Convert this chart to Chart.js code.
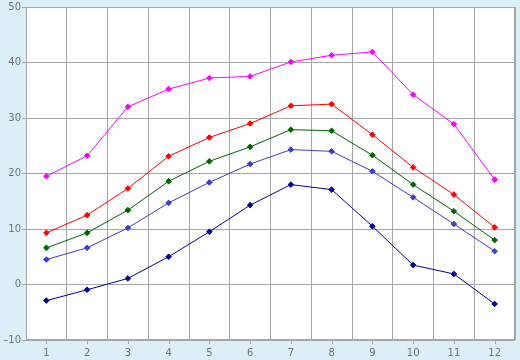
<!DOCTYPE html>
<html>
<head>
<meta charset="utf-8">
<script src="https://cdn.jsdelivr.net/npm/chart.js@4/dist/chart.umd.min.js"></script>
<style>
html,body{margin:0;padding:0;background:#daeff6;}
#wrap{width:520px;height:360px;}
</style>
</head>
<body>
<div id="wrap"><canvas id="c" width="520" height="360"></canvas></div>
<script>
const categories = ['1','2','3','4','5','6','7','8','9','10','11','12'];
const seriesMagenta = [19.5, 23.2, 32.0, 35.2, 37.2, 37.5, 40.1, 41.3, 41.9, 34.2, 28.9, 18.9];
const seriesRed     = [9.3, 12.5, 17.3, 23.1, 26.5, 29.0, 32.2, 32.5, 27.0, 21.1, 16.2, 10.3];
const seriesGreen   = [6.6, 9.3, 13.4, 18.6, 22.2, 24.8, 27.9, 27.7, 23.3, 18.0, 13.2, 8.0];
const seriesBlue    = [4.5, 6.6, 10.2, 14.7, 18.4, 21.7, 24.3, 24.0, 20.4, 15.7, 10.9, 6.0];
const seriesNavy    = [-2.9, -0.95, 1.1, 5.0, 9.5, 14.3, 18.0, 17.1, 10.5, 3.5, 1.9, -3.5];
const yMin = -10, yMax = 50, yStep = 10;

function ds(data, color){
  return {data, borderColor: color, backgroundColor: color, borderWidth: 1,
    pointStyle: 'rectRot', pointRadius: 2.8, pointHoverRadius: 2.8, pointBorderWidth: 1,
    tension: 0, fill: false};
}

const framePlugin = {
  id: 'frame',
  beforeDraw(chart){
    const {ctx, chartArea: a} = chart;
    ctx.save();
    ctx.fillStyle = '#daeff6';
    ctx.fillRect(0, 0, chart.width, chart.height);
    ctx.fillStyle = '#ffffff';
    ctx.fillRect(a.left, a.top, a.right - a.left, a.bottom - a.top);
    ctx.restore();
  },
  afterDraw(chart){
    const {ctx, chartArea: a} = chart;
    const xs = chart.scales.x;
    ctx.save();
    ctx.strokeStyle = '#a6a6a6';
    ctx.lineWidth = 1;
    ctx.strokeRect(Math.round(a.left) + 0.5, Math.round(a.top) + 0.5,
                   Math.round(a.right - a.left) - 1, Math.round(a.bottom - a.top) - 1);
    ctx.beginPath();
    categories.forEach((c, i) => {
      const px = Math.round(xs.getPixelForValue(i)) + 0.5;
      ctx.moveTo(px, a.bottom);
      ctx.lineTo(px, a.bottom + 4);
    });
    ctx.stroke();
    ctx.restore();
  }
};

new Chart(document.getElementById('c'), {
  type: 'line',
  data: {
    labels: categories,
    datasets: [
      ds(seriesMagenta, '#ff00ff'),
      ds(seriesRed, '#ff0000'),
      ds(seriesGreen, '#006400'),
      ds(seriesBlue, '#3c3cd2'),
      ds(seriesNavy, '#00009c')
    ]
  },
  options: {
    responsive: false,
    animation: false,
    layout: {padding: {top: 5, right: 5, left: 0, bottom: 0}},
    plugins: {legend: {display: false}, tooltip: {enabled: false}},
    scales: {
      x: {
        offset: true,
        grid: {offset: true, color: '#a6a6a6', lineWidth: 1, drawTicks: false},
        border: {display: false},
        ticks: {color: '#707070', font: {family: 'DejaVu Sans', size: 10}, padding: 7, maxRotation: 0},
        afterFit(s){ s.height = 20; }
      },
      y: {
        min: yMin, max: yMax,
        grid: {color: '#a6a6a6', lineWidth: 1, tickLength: 4},
        border: {display: false},
        ticks: {stepSize: yStep, color: '#707070', font: {family: 'DejaVu Sans', size: 10}, padding: 1,
          callback: v => v < 0 ? '\u2013' + Math.abs(v) : String(v)},
        afterFit(s){ s.width = 26; }
      }
    }
  },
  plugins: [framePlugin]
});
</script>
</body>
</html>
